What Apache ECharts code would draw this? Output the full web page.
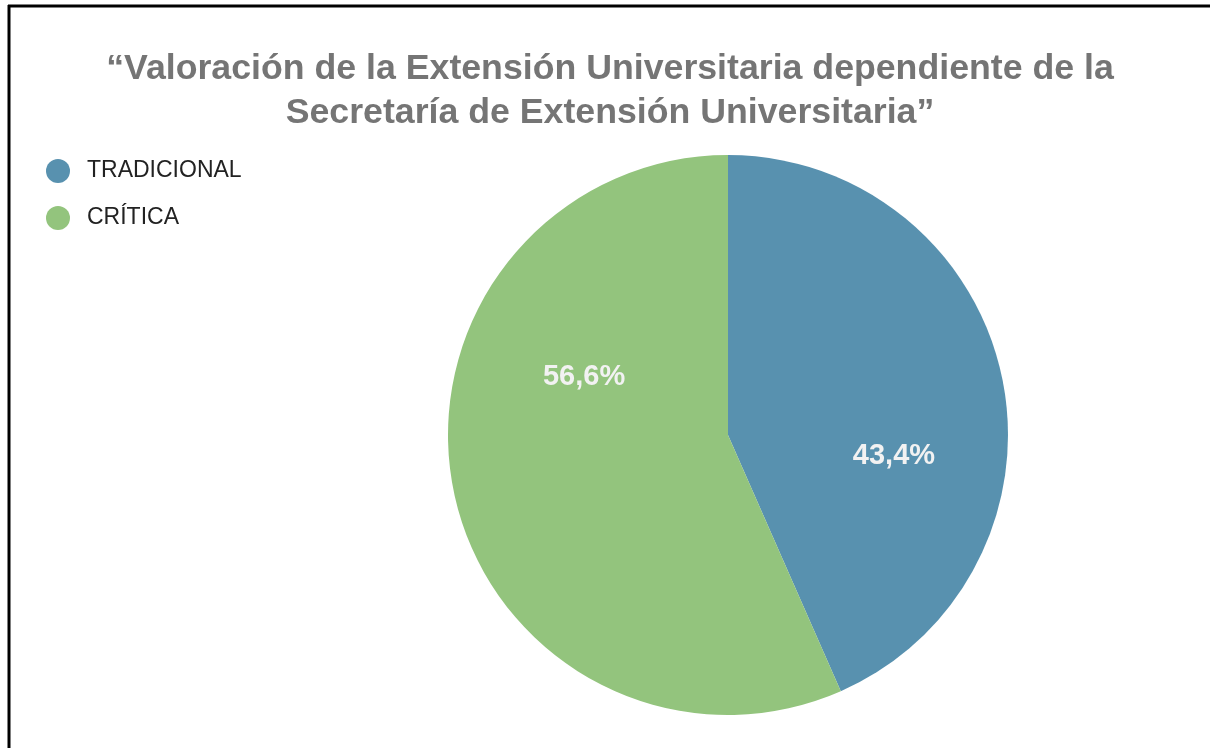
<!DOCTYPE html>
<html>
<head>
<meta charset="utf-8">
<script src="https://cdn.jsdelivr.net/npm/echarts@6/dist/echarts.min.js"></script>
<style>
  html, body { margin: 0; padding: 0; background: #fff; }
  #chart { width: 1210px; height: 748px; }
</style>
</head>
<body>
<div id="chart"></div>
<script>
// datos
const categories = ['TRADICIONAL', 'CRÍTICA'];
const values = [43.4, 56.6];
const colors = ['#5891af', '#93c47d'];
// desplazamiento de las etiquetas (como en el original)
const labelOffsets = [[26, 50], [-4, -87]];

const chartDom = document.getElementById('chart');
const myChart = echarts.init(chartDom, null, {renderer: 'canvas'});

const option = {
    backgroundColor: '#fff',
    title: {
        text: '“Valoración de la Extensión Universitaria dependiente de la\nSecretaría de Extensión Universitaria”',
        left: 605,
        top: 42,
        textAlign: 'center',
        textStyle: {
            fontFamily: 'Liberation Sans, Arial, sans-serif',
            fontSize: 35.7,
            fontWeight: 'bold',
            color: '#757575',
            lineHeight: 44
        }
    },
    legend: {
        orient: 'vertical',
        left: 41,
        top: 154,
        icon: 'circle',
        itemWidth: 24,
        itemHeight: 24,
        itemGap: 23,
        data: categories,
        textStyle: {
            fontFamily: 'Liberation Sans, Arial, sans-serif',
            fontSize: 23,
            color: '#222',
            padding: [0, 0, 0, 12]
        }
    },
    graphic: [
        {
            type: 'line',
            shape: {x1: 8, y1: 6, x2: 1210, y2: 6},
            style: {stroke: '#000', lineWidth: 3}
        },
        {
            type: 'line',
            shape: {x1: 9, y1: 5, x2: 9, y2: 748},
            style: {stroke: '#000', lineWidth: 3}
        }
    ],
    series: [
        {
            type: 'pie',
            center: [728, 435],
            radius: 280,
            startAngle: 90,
            clockwise: true,
            avoidLabelOverlap: false,
            silent: true,
            label: {
                show: true,
                position: 'inside',
                formatter: p => p.value.toFixed(1).replace('.', ',') + '%',
                fontFamily: 'Liberation Sans, Arial, sans-serif',
                fontSize: 29,
                fontWeight: 'bold',
                color: '#f2f2f2'
            },
            labelLine: {show: false},
            data: categories.map((name, i) => ({
                name: name,
                value: values[i],
                itemStyle: {color: colors[i]},
                label: {offset: labelOffsets[i]}
            }))
        }
    ]
};

option && myChart.setOption(option);
</script>
</body>
</html>
